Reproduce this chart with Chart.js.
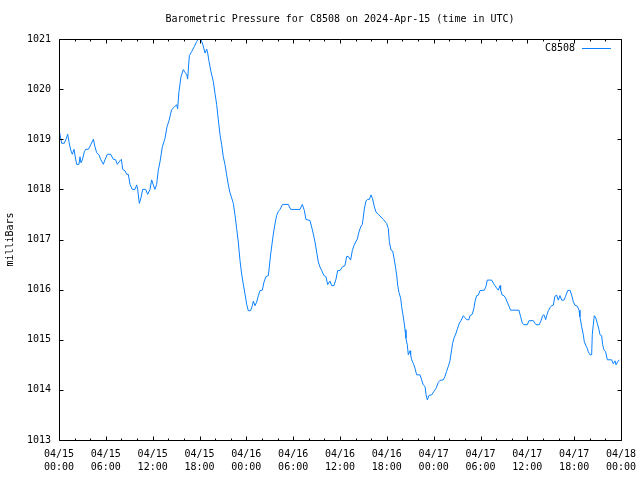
<!DOCTYPE html>
<html>
<head>
<meta charset="utf-8">
<script src="https://cdn.jsdelivr.net/npm/chart.js@4/dist/chart.umd.min.js"></script>
<style>
html,body{margin:0;padding:0;background:#fff;}
#wrap{width:640px;height:480px;}
</style>
</head>
<body>
<div id="wrap"><canvas id="c" width="640" height="480"></canvas></div>
<script>
const chartTitle = 'Barometric Pressure for C8508 on 2024-Apr-15 (time in UTC)';
const seriesName = 'C8508';
const yAxisTitle = 'milliBars';

// hours since 2024-04-15 00:00 UTC
const hours = [
  0.00,0.34,0.68,0.90,1.11,1.28,1.49,1.71,1.92,2.14,2.26,2.56,2.69,2.82,2.99,3.25,3.42,3.76,4.10,4.40,
  4.61,4.83,5.12,5.34,5.68,5.89,6.19,6.62,6.96,7.26,7.47,7.81,7.99,8.16,8.46,8.67,8.88,9.10,9.39,9.74,
  9.95,10.08,10.29,10.50,10.72,11.10,11.36,11.66,11.87,12.08,12.30,12.51,12.73,12.94,13.24,13.58,13.84,14.09,14.43,14.77,
  15.07,15.20,15.37,15.63,15.93,16.14,16.36,16.48,16.70,17.00,17.34,17.64,17.85,18.15,18.41,18.71,18.92,19.05,19.22,19.47,
  19.77,19.98,20.20,20.41,20.63,20.84,21.05,21.27,21.48,21.69,21.91,22.12,22.33,22.55,22.76,
  22.97,23.19,23.40,23.61,23.83,24.04,24.25,24.55,24.77,24.90,25.11,25.32,25.54,25.75,26.05,26.26,26.52,26.82,26.94,27.12,
  27.29,27.46,27.67,27.88,28.10,28.31,28.65,29.38,29.68,30.87,31.17,31.43,31.64,32.15,32.37,32.58,32.80,33.01,33.22,33.44,
  33.65,33.95,34.20,34.42,34.72,34.93,35.23,35.49,35.70,36.00,36.34,36.64,36.85,37.07,37.36,37.58,37.79,38.01,38.22,38.43,
  38.65,38.86,38.99,39.12,39.33,39.54,39.76,39.97,40.18,40.40,40.61,40.91,
  41.12,41.55,41.98,42.19,42.32,42.53,42.75,42.92,43.13,43.26,43.39,43.56,43.77,43.90,44.03,44.20,44.33,44.45,44.62,44.75,
  44.97,45.05,45.18,45.39,45.61,45.82,46.25,46.46,46.67,46.89,47.02,47.19,47.40,47.74,48.04,48.30,48.60,48.81,49.24,49.45,
  49.66,49.88,50.09,50.30,50.43,50.60,50.86,51.07,51.29,51.50,51.80,52.01,52.23,52.52,52.65,52.95,53.16,53.29,53.51,53.72,
  53.93,54.49,54.70,54.87,55.43,55.64,55.85,56.07,56.28,56.50,56.58,56.79,57.01,57.22,57.43,57.65,57.86,58.93,59.14,59.36,
  59.57,60.00,60.21,60.77,60.98,61.11,61.53,61.75,61.96,62.13,62.35,62.47,62.69,62.90,63.11,63.33,63.54,63.75,63.97,64.18,
  64.40,64.69,64.91,65.16,65.46,65.68,65.89,66.10,66.40,66.62,66.74,66.96,67.17,67.30,67.51,67.68,67.81,68.03,68.24,68.32,
  68.45,68.58,68.79,68.96,69.18,69.31,69.52,69.65,69.82,70.03,70.25,70.80,71.01,71.23,71.36,71.57,71.78
];

// pressure in milliBars
const pressure = [
  1019.2,1018.92,1018.92,1019.0,1019.1,1018.95,1018.79,1018.7,1018.8,1018.6,1018.5,1018.5,1018.65,1018.53,1018.59,1018.75,1018.8,1018.8,1018.9,1019.0,
  1018.85,1018.73,1018.69,1018.6,1018.5,1018.59,1018.7,1018.7,1018.6,1018.59,1018.5,1018.57,1018.6,1018.4,1018.37,1018.3,1018.3,1018.1,1018.0,1018.0,
  1018.09,1018.0,1017.72,1017.83,1018.0,1018.0,1017.9,1018.0,1018.19,1018.09,1018.0,1018.1,1018.39,1018.55,1018.85,1019.02,1019.25,1019.37,1019.59,1019.64,
  1019.69,1019.61,1019.95,1020.25,1020.39,1020.33,1020.3,1020.2,1020.67,1020.75,1020.85,1020.95,1021.0,1021.0,1020.9,1020.72,1020.8,1020.72,1020.55,1020.35,
  1020.15,1019.92,1019.69,1019.39,1019.09,1018.89,1018.65,1018.49,1018.29,1018.09,1017.93,1017.83,1017.72,1017.49,1017.22,
  1016.95,1016.58,1016.31,1016.11,1015.91,1015.71,1015.58,1015.58,1015.68,1015.77,1015.68,1015.75,1015.88,1015.98,1015.99,1016.15,1016.26,1016.28,1016.45,1016.71,
  1016.91,1017.11,1017.31,1017.48,1017.56,1017.6,1017.7,1017.7,1017.6,1017.6,1017.7,1017.58,1017.4,1017.38,1017.25,1017.11,1016.95,1016.75,1016.55,1016.45,
  1016.38,1016.28,1016.26,1016.1,1016.17,1016.08,1016.08,1016.21,1016.38,1016.38,1016.46,1016.48,1016.66,1016.66,1016.59,1016.78,1016.88,1016.95,1017.01,1017.15,
  1017.25,1017.3,1017.45,1017.61,1017.77,1017.8,1017.8,1017.89,1017.81,1017.65,1017.55,1017.5,
  1017.47,1017.40,1017.32,1017.22,1016.96,1016.79,1016.77,1016.63,1016.43,1016.29,1016.09,1015.94,1015.83,1015.66,1015.53,1015.36,1015.20,1015.03,1014.90,1014.70,
  1014.78,1014.70,1014.60,1014.53,1014.43,1014.30,1014.30,1014.20,1014.10,1014.07,1013.91,1013.80,1013.89,1013.90,1013.97,1014.03,1014.15,1014.19,1014.20,1014.27,
  1014.37,1014.47,1014.58,1014.80,1014.93,1015.03,1015.13,1015.23,1015.33,1015.38,1015.48,1015.44,1015.40,1015.40,1015.48,1015.51,1015.63,1015.76,1015.88,1015.89,
  1015.98,1015.99,1016.06,1016.19,1016.19,1016.13,1016.08,1016.03,1015.99,1016.08,1015.99,1015.89,1015.88,1015.83,1015.75,1015.67,1015.59,1015.59,1015.46,1015.33,
  1015.30,1015.30,1015.38,1015.38,1015.33,1015.30,1015.30,1015.38,1015.48,1015.50,1015.40,1015.48,1015.58,1015.64,1015.68,1015.69,1015.87,1015.89,1015.79,1015.88,
  1015.79,1015.79,1015.87,1015.98,1015.99,1015.89,1015.76,1015.69,1015.67,1015.59,1015.46,1015.26,1015.10,1014.96,1014.88,1014.83,1014.76,1014.70,1014.70,1015.10,
  1015.30,1015.48,1015.43,1015.33,1015.20,1015.10,1015.08,1014.90,1014.80,1014.76,1014.60,1014.60,1014.52,1014.58,1014.50,1014.56,1014.60
];

const tickHours = [0,6,12,18,24,30,36,42,48,54,60,66,72];
const tickDates = ['04/15','04/15','04/15','04/15','04/16','04/16','04/16','04/16','04/17','04/17','04/17','04/17','04/18'];
const tickTimes = ['00:00','06:00','12:00','18:00','00:00','06:00','12:00','18:00','00:00','06:00','12:00','18:00','00:00'];
const yTicks = [1013,1014,1015,1016,1017,1018,1019,1020,1021];
const minorHours = [0,2,4,6,8,10,12,14,16,18,20,22,24,26,28,30,32,34,36,38,40,42,44,46,48,50,52,54,56,58,60,62,64,66,68,70,72];

const FONT = '"DejaVu Sans Mono","Liberation Mono",monospace';
const LINE_COLOR = '#0a80ff';

const framePlugin = {
  id: 'frame',
  afterDraw(chart) {
    const ctx = chart.ctx;
    const a = chart.chartArea;
    const xs = chart.scales.x, ys = chart.scales.y;
    const L = Math.round(a.left), R = Math.round(a.right), T = Math.round(a.top), B = Math.round(a.bottom);
    ctx.save();
    ctx.strokeStyle = '#000';
    ctx.lineWidth = 1;
    ctx.beginPath();
    ctx.rect(L + 0.5, T + 0.5, R - L, B - T);
    ctx.stroke();
    ctx.beginPath();
    minorHours.forEach(h => {
      const px = Math.round(xs.getPixelForValue(h)) + 0.5;
      const len = tickHours.includes(h) ? 4 : 2;
      ctx.moveTo(px, B + 0.5); ctx.lineTo(px, B + 0.5 - len);
      ctx.moveTo(px, T + 0.5); ctx.lineTo(px, T + 0.5 + len);
    });
    yTicks.forEach(v => {
      const py = Math.round(ys.getPixelForValue(v)) + 0.5;
      ctx.moveTo(L + 0.5, py); ctx.lineTo(L + 0.5 + 4, py);
      ctx.moveTo(R + 0.5, py); ctx.lineTo(R + 0.5 - 4, py);
    });
    ctx.stroke();

    // title
    ctx.fillStyle = '#000';
    ctx.font = '10px ' + FONT;
    ctx.textAlign = 'center';
    ctx.textBaseline = 'middle';
    ctx.fillText(chartTitle, 340, 19);

    // legend (text then line sample)
    ctx.textAlign = 'right';
    ctx.fillText(chart.data.datasets[0].label, 575, 48);
    ctx.strokeStyle = LINE_COLOR;
    ctx.beginPath();
    ctx.moveTo(582, 48.5); ctx.lineTo(611, 48.5);
    ctx.stroke();
    ctx.restore();
  }
};

new Chart(document.getElementById('c'), {
  type: 'line',
  data: {
    datasets: [{
      label: seriesName,
      data: hours.map((h, i) => ({ x: h, y: pressure[i] })),
      borderColor: LINE_COLOR,
      borderWidth: 1,
      pointRadius: 0,
      fill: false,
      tension: 0
    }]
  },
  options: {
    responsive: false,
    animation: false,
    devicePixelRatio: 1,
    layout: { padding: { top: 39, right: 19, left: 0, bottom: 0 } },
    plugins: { legend: { display: false }, tooltip: { enabled: false }, title: { display: false } },
    scales: {
      x: {
        type: 'linear', min: 0, max: 72,
        afterBuildTicks(s) { s.ticks = tickHours.map(v => ({ value: v })); },
        afterFit(s) { s.height = 40; s.paddingLeft = 0; s.paddingRight = 0; },
        ticks: {
          autoSkip: false, maxRotation: 0, minRotation: 0, padding: 8,
          color: '#000', font: { family: FONT, size: 10, lineHeight: 1.3 },
          callback: (v) => { const i = tickHours.indexOf(v); return i >= 0 ? [tickDates[i], tickTimes[i]] : ''; }
        },
        grid: { display: false, drawTicks: false },
        border: { display: false }
      },
      y: {
        min: 1013, max: 1021,
        afterBuildTicks(s) { s.ticks = yTicks.map(v => ({ value: v })); },
        afterFit(s) { s.width = 59; s.paddingTop = 0; s.paddingBottom = 0; },
        ticks: {
          padding: 8, color: '#000', font: { family: FONT, size: 10 },
          callback: (v) => String(v)
        },
        title: { display: true, text: yAxisTitle, color: '#000', font: { family: FONT, size: 10 }, padding: { top: 4, bottom: 4 } },
        grid: { display: false, drawTicks: false },
        border: { display: false }
      }
    }
  },
  plugins: [framePlugin]
});
</script>
</body>
</html>
